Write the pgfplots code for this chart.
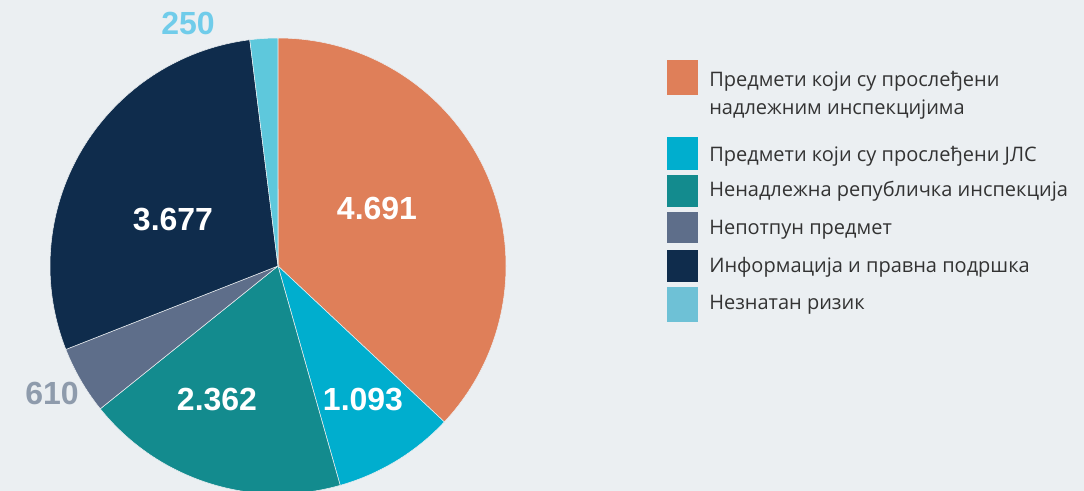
\documentclass[border=0pt]{standalone}
\usepackage{pgfplots}
\usepackage{pgfplotstable}
\usepackage{fontspec}
\setmainfont{Liberation Sans}
\newfontfamily\legfont{Open Sans}
\pgfplotsset{compat=1.18}

\definecolor{bgcol}{HTML}{EBEFF2}
\definecolor{cOrange}{HTML}{DF7F59}
\definecolor{cCyan}{HTML}{00AECE}
\definecolor{cTeal}{HTML}{138B8E}
\definecolor{cSlate}{HTML}{5E6E8A}
\definecolor{cNavy}{HTML}{0F2C4C}
\definecolor{cLight}{HTML}{5EC8DC}
\definecolor{cLightLeg}{HTML}{6EC1D6}
\definecolor{lab250}{HTML}{70CCEA}
\definecolor{lab610}{HTML}{8E9BAC}
\definecolor{txt}{HTML}{333333}

% broj predmeta po kategoriji
\pgfplotstableread{
value color
4691 cOrange
1093 cCyan
2362 cTeal
610 cSlate
3677 cNavy
250 cLight
}\piedata

\begin{document}
\begin{tikzpicture}
\begin{axis}[
  scale only axis,
  width=813pt, height=368.25pt,
  xmin=0, xmax=1084, ymin=0, ymax=491,
  y dir=reverse,
  axis lines=none,
  axis background/.style={fill=bgcol},
]
\pgfplotsextra{
  \pgfplotstablegetrowsof{\piedata}
  \pgfmathtruncatemacro\nrows{\pgfplotsretval-1}
  \gdef\total{0}
  \foreach \i in {0,...,\nrows}{
    \pgfplotstablegetelem{\i}{value}\of\piedata
    \pgfmathsetmacro\t{\total+\pgfplotsretval}
    \xdef\total{\t}
  }
  \gdef\ang{90}
  \foreach \i in {0,...,\nrows}{
    \pgfplotstablegetelem{\i}{value}\of\piedata \let\v\pgfplotsretval
    \pgfplotstablegetelem{\i}{color}\of\piedata \let\c\pgfplotsretval
    \pgfmathsetmacro\e{\ang-360*(\v/\total)}
    \fill[fill=\c, draw=bgcol, line width=0.4pt]
      (axis cs:278,266) -- ++(\ang:171pt)
      arc[start angle=\ang, end angle=\e, radius=171pt] -- cycle;
    \xdef\ang{\e}
  }
}
% vrednosti
\node[font=\bfseries\fontsize{24}{28}\selectfont, white] at (axis cs:377,208) {4.691};
\node[font=\bfseries\fontsize{24}{28}\selectfont, white] at (axis cs:363,400) {1.093};
\node[font=\bfseries\fontsize{24}{28}\selectfont, white] at (axis cs:217,400) {2.362};
\node[font=\bfseries\fontsize{24}{28}\selectfont, white] at (axis cs:173,220) {3.677};
\node[font=\bfseries\fontsize{24}{28}\selectfont, color=lab610] at (axis cs:52,393) {610};
\node[font=\bfseries\fontsize{24}{28}\selectfont, color=lab250] at (axis cs:188,23) {250};
% legenda
\fill[cOrange] (axis cs:667,60) rectangle (axis cs:698,95);
\fill[cCyan] (axis cs:667,137) rectangle (axis cs:698,170);
\fill[cTeal] (axis cs:667,175) rectangle (axis cs:698,207);
\fill[cSlate] (axis cs:667,212) rectangle (axis cs:698,243);
\fill[cNavy] (axis cs:667,250) rectangle (axis cs:698,282);
\fill[cLightLeg] (axis cs:667,287) rectangle (axis cs:698,322);
\begin{scope}[every node/.style={anchor=base west, inner sep=0pt, text=txt, font=\legfont\fontsize{15}{18}\selectfont}]
\node at (axis cs:709,87) {Предмети који су прослеђени};
\node at (axis cs:709,115) {надлежним инспекцијима};
\node at (axis cs:709,162) {Предмети који су прослеђени ЈЛС};
\node at (axis cs:709,197) {Ненадлежна републичка инспекција};
\node at (axis cs:709,235) {Непотпун предмет};
\node at (axis cs:709,273) {Информација и правна подршка};
\node at (axis cs:709,310) {Незнатан ризик};
\end{scope}
\end{axis}
\pgfresetboundingbox
\path (current axis.south west) rectangle (current axis.north east);
\end{tikzpicture}
\end{document}
